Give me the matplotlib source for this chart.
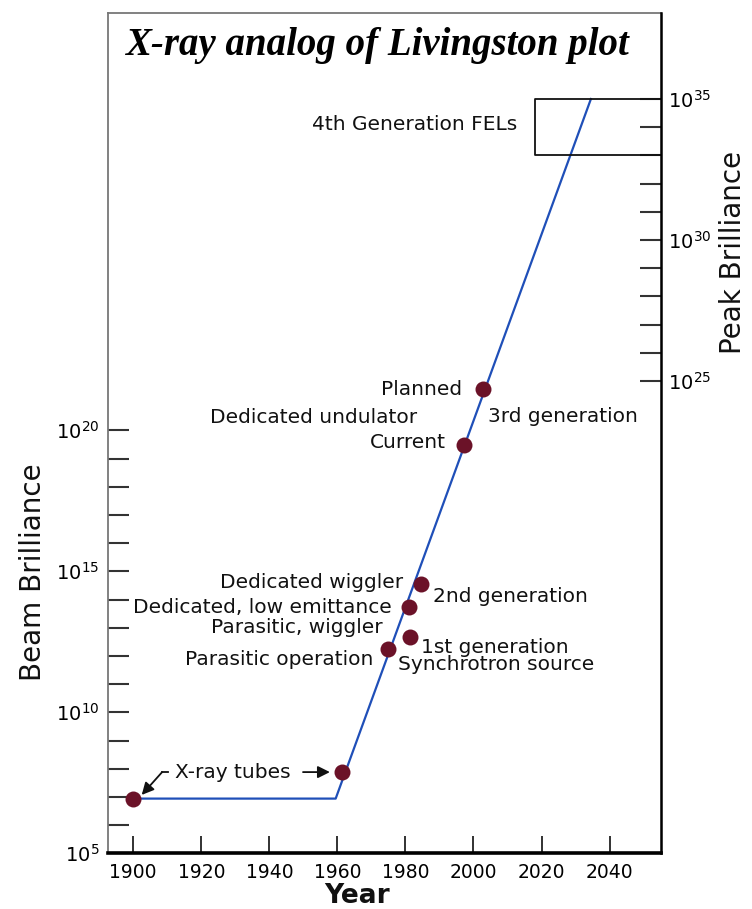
import numpy as np
import matplotlib
matplotlib.use('Agg')  # Use a non-GUI backend
import matplotlib.pyplot as plt
from matplotlib.ticker import FixedLocator, FuncFormatter, NullFormatter

# Blue trend line (year, log10 of beam brilliance)
line_years = [1900, 1959.5, 2034.5]
line_log = [6.94, 6.94, 31.75]

# Source milestones (year, log10 of beam brilliance)
dot_years = [1900, 1961.5, 1974.8, 1981.3, 1981.0, 1984.5, 1997.3, 2002.7]
dot_log = [6.91, 7.87, 12.23, 12.66, 13.72, 14.55, 19.48, 21.45]

# FEL window on the peak brilliance axis
fel_year = 2018
fel_log = [33, 35]

year_ticks = [1900, 1920, 1940, 1960, 1980, 2000, 2020, 2040]
beam_major = [5, 10, 15, 20]
beam_minor = [k for k in range(6, 20) if k % 5]
peak_major = [25, 30, 35]
peak_minor = [k for k in range(26, 35) if k % 5]

labels = ['4th Generation FELs', 'Planned', 'Dedicated undulator', '3rd generation',
          'Current', 'Dedicated wiggler', '2nd generation', 'Dedicated, low emittance',
          'Parasitic, wiggler', '1st generation', 'Parasitic operation',
          'Synchrotron source', 'X-ray tubes']

# where each label sits (year, log10 brilliance, horizontal alignment)
label_pos = [(2012.8, 30.86, 'right'), (1996.6, 21.46, 'right'), (1953.1, 20.44, 'center'),
             (2004.3, 20.48, 'left'), (1991.9, 19.57, 'right'), (1979.3, 14.62, 'right'),
             (1988.1, 14.09, 'left'), (1976.1, 13.73, 'right'), (1973.4, 12.99, 'right'),
             (1984.6, 12.31, 'left'), (1970.5, 11.89, 'right'), (1977.8, 11.68, 'left'),
             (1929.3, 7.86, 'center')]

W, H = 752, 909
XMIN, XMAX = 1892.45, 2055.1
LEFT_LIM = (5, 34.8)
RIGHT_LIM = (8.25, 38.05)

plt.rcParams['font.family'] = ['DejaVu Sans']
plt.rcParams['mathtext.fontset'] = 'dejavusans'


def power_label(v, pos):
    return r'$10^{%d}$' % int(round(np.log10(v)))


fig = plt.figure(figsize=(W / 100, H / 100), dpi=100)
ax = fig.add_axes([107.5 / W, (H - 853.3) / H, (661 - 107.5) / W, (853.3 - 13) / H])
ax.set_yscale('log')
ax.set_xlim(XMIN, XMAX)
ax.set_ylim(10 ** LEFT_LIM[0], 10 ** LEFT_LIM[1])

ax2 = ax.twinx()
ax2.set_yscale('log')
ax2.set_ylim(10 ** RIGHT_LIM[0], 10 ** RIGHT_LIM[1])

# spines
ax.spines['left'].set_color('#777777')
ax.spines['left'].set_linewidth(1.3)
ax.spines['top'].set_color('#777777')
ax.spines['top'].set_linewidth(1.3)
ax.spines['bottom'].set_linewidth(2.6)
ax2.spines['right'].set_linewidth(1.8)
for s in ['left', 'top', 'bottom']:
    ax2.spines[s].set_visible(False)

# x axis
ax.set_xticks(year_ticks)
ax.tick_params(axis='x', direction='in', length=12, width=1.3, pad=7,
               labelsize=13.5, top=False, color='#222222')

# left axis
ax.yaxis.set_major_locator(FixedLocator([10.0 ** k for k in beam_major]))
ax.yaxis.set_minor_locator(FixedLocator([10.0 ** k for k in beam_minor]))
ax.yaxis.set_major_formatter(FuncFormatter(power_label))
ax.yaxis.set_minor_formatter(NullFormatter())
ax.tick_params(axis='y', which='both', direction='in', length=15, width=1.5,
               color='#333333', labelsize=14, pad=6, right=False)

# right axis
ax2.yaxis.set_major_locator(FixedLocator([10.0 ** k for k in peak_major]))
ax2.yaxis.set_minor_locator(FixedLocator([10.0 ** k for k in peak_minor]))
ax2.yaxis.set_major_formatter(FuncFormatter(power_label))
ax2.yaxis.set_minor_formatter(NullFormatter())
ax2.tick_params(axis='y', which='both', direction='in', length=15, width=1.5,
                color='#333333', labelsize=14, pad=5, left=False)

# trend line and dots
ax.plot(line_years, [10.0 ** v for v in line_log], color='#1f4fb8', lw=1.6, zorder=3)
ax.plot(dot_years, [10.0 ** v for v in dot_log], 'o', color='#6b1228', ms=11.5,
        mec='none', zorder=4)

# FEL box
ax2.plot([XMAX, fel_year, fel_year, XMAX],
         [10.0 ** fel_log[1], 10.0 ** fel_log[1], 10.0 ** fel_log[0], 10.0 ** fel_log[0]],
         color='#111111', lw=1.3, zorder=2)

# labels
for txt, (x, y, ha) in zip(labels, label_pos):
    ax.text(x, 10.0 ** y, txt, ha=ha, va='center', fontsize=14.5, color='#111111')

# X-ray tube arrows
ax.plot([1910.2, 1908.5], [10 ** 7.88, 10 ** 7.88], color='#111111', lw=1.3)
ax.annotate('', xy=(1902.5, 10 ** 7.07), xytext=(1908.5, 10 ** 7.88),
            arrowprops=dict(arrowstyle='-|>', color='#111111', lw=1.3,
                            mutation_scale=18, shrinkA=0, shrinkB=0))
ax.annotate('', xy=(1957.8, 10 ** 7.88), xytext=(1949.9, 10 ** 7.88),
            arrowprops=dict(arrowstyle='-|>', color='#111111', lw=1.3,
                            mutation_scale=18, shrinkA=0, shrinkB=0))

# axis titles and chart title
fig.text(357 / W, 1 - 896 / H, 'Year', ha='center', va='center', fontsize=19,
         fontweight='bold', color='#111111')
fig.text(33 / W, 1 - 572 / H, 'Beam Brilliance', ha='center', va='center',
         rotation=90, fontsize=20, color='#111111')
fig.text(733 / W, 1 - 252 / H, 'Peak Brilliance', ha='center', va='center',
         rotation=90, fontsize=20, color='#111111')
fig.text(378 / W, 1 - 46 / H, 'X-ray analog of Livingston plot', ha='center', va='center',
         family='Liberation Serif', style='italic', fontweight='bold', fontsize=28)

fig.savefig('out.png', dpi=100)
